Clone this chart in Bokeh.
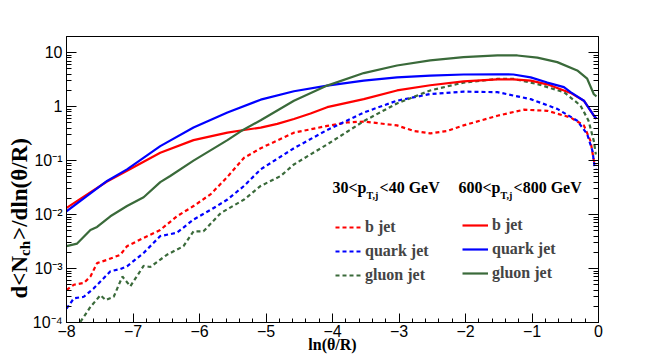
from bokeh.plotting import figure
from bokeh.models import (Range1d, LogAxis, FixedTicker, CustomJSTickFormatter,
                          Label, Legend, LegendItem, Title)
from bokeh.embed import file_html
from bokeh.resources import INLINE

# ---------------- data ----------------
b_hi_x = [-8, -7.39, -7.09, -6.59, -6.09, -5.58, -5.33, -5.08, -4.83, -4.58, -4.33, -4.08,
          -3.53, -3.03, -2.53, -2.03, -1.52, -1.28, -1.02, -0.77, -0.52, -0.42, -0.22, -0.07, -0.03]
b_hi_y = [0.0133, 0.041, 0.065, 0.14, 0.24, 0.33, 0.37, 0.41, 0.48, 0.59, 0.75, 0.98,
          1.38, 2.0, 2.5, 2.95, 3.2, 3.2, 3.05, 2.6, 2.0, 1.8, 1.29, 0.68, 0.6]

q_hi_x = [-8, -7.39, -7.09, -6.59, -6.09, -5.58, -5.08, -4.58, -4.08, -3.53, -3.03, -2.53,
          -2.03, -1.52, -1.28, -1.02, -0.77, -0.52, -0.42, -0.22, -0.07, -0.03]
q_hi_y = [0.0115, 0.042, 0.069, 0.186, 0.41, 0.78, 1.35, 1.93, 2.45, 3.05, 3.5, 3.78,
          3.95, 3.98, 3.95, 3.5, 2.8, 2.3, 1.86, 1.29, 0.68, 0.6]

g_hi_x = [-8, -7.84, -7.64, -7.54, -7.34, -7.09, -6.84, -6.59, -6.44, -6.09, -5.58, -5.38,
          -5.08, -4.58, -4.08, -3.53, -3.03, -2.53, -2.03, -1.52, -1.22, -0.92, -0.62, -0.32,
          -0.17, -0.07, -0.03]
g_hi_y = [0.0026, 0.0029, 0.0052, 0.0059, 0.0093, 0.0144, 0.021, 0.040, 0.052, 0.10, 0.24, 0.35,
          0.56, 1.29, 2.46, 4.2, 5.8, 7.2, 8.3, 8.9, 8.9, 8.1, 6.7, 4.7,
          3.3, 1.7, 1.55]

b_lo_x = [-8, -7.89, -7.74, -7.64, -7.54, -7.39, -7.19, -7.09, -6.84, -6.59, -6.34, -6.09,
          -5.83, -5.58, -5.33, -5.08, -4.58, -4.08, -3.78, -3.53, -3.03, -2.78, -2.53, -2.28,
          -2.03, -1.52, -1.12, -0.77, -0.42, -0.22, -0.12, -0.07, -0.04]
b_lo_y = [4.0e-4, 5.0e-4, 5.4e-4, 7.1e-4, 1.26e-3, 1.45e-3, 1.8e-3, 2.6e-3, 3.7e-3, 5.2e-3, 9.3e-3, 0.0144,
          0.024, 0.05, 0.113, 0.17, 0.33, 0.44, 0.51, 0.53, 0.45, 0.355, 0.32, 0.355,
          0.45, 0.68, 0.88, 0.84, 0.63, 0.45, 0.23, 0.10, 0.083]

q_lo_x = [-8, -7.89, -7.74, -7.59, -7.34, -7.19, -7.09, -6.84, -6.59, -6.34, -6.09, -5.83,
          -5.58, -5.33, -5.08, -4.58, -4.08, -3.53, -3.03, -2.53, -2.03, -1.52, -1.02, -0.62,
          -0.32, -0.17, -0.09, -0.06, -0.04]
q_lo_y = [1.8e-4, 2.8e-4, 3.0e-4, 4.3e-4, 8.9e-4, 9.8e-4, 1.1e-3, 1.95e-3, 4.0e-3, 4.6e-3, 8.1e-3, 0.0123,
          0.019, 0.034, 0.069, 0.17, 0.37, 0.78, 1.29, 1.72, 1.9, 1.86, 1.38, 0.91,
          0.55, 0.31, 0.15, 0.079, 0.07]

g_lo_x = [-7.85, -7.64, -7.49, -7.41, -7.29, -7.16, -7.04, -6.84, -6.74, -6.49, -6.24, -6.09,
          -5.94, -5.68, -5.33, -5.08, -4.78, -4.58, -4.08, -3.53, -3.03, -2.53, -2.03, -1.52,
          -1.28, -0.92, -0.52, -0.27, -0.15, -0.07, -0.04]
g_lo_y = [8e-5, 1.95e-4, 3.2e-4, 2.6e-4, 3.0e-4, 7.1e-4, 4.7e-4, 1.12e-3, 1.07e-3, 1.8e-3, 2.6e-3, 4.9e-3,
          4.9e-3, 0.0107, 0.019, 0.034, 0.052, 0.085, 0.20, 0.54, 1.15, 2.0, 2.8, 3.27,
          3.27, 2.63, 1.86, 1.05, 0.55, 0.23, 0.13]

x_ticks = [-8, -7, -6, -5, -4, -3, -2, -1, 0]
x_tick_labels = ["\u22128", "\u22127", "\u22126", "\u22125", "\u22124", "\u22123", "\u22122", "\u22121", "0"]
y_ticks = [1e-4, 1e-3, 1e-2, 1e-1, 1, 10]
y_tick_labels = ["10\u207b\u2074", "10\u207b\u00b3", "10\u207b\u00b2", "10\u207b\u00b9", "1", "10"]

series_names = ["b jet", "quark jet", "gluon jet"]
header_lo = ("30<p", "T,j", "<40 GeV")
header_hi = ("600<p", "T,j", "<800 GeV")
x_title = "ln(\u03b8/R)"
y_title = ("d<N", "ch", ">/dln(\u03b8/R)")

RED, BLUE, GREEN = "#ff0000", "#0000ff", "#3a6a3a"
SERIF = "Liberation Serif"
SANS = "Liberation Sans"

# Times-Bold advance widths (per 1000 em) for text layout
W = {'0': 500, '1': 500, '2': 500, '3': 500, '4': 500, '5': 500, '6': 500, '7': 500, '8': 500, '9': 500,
     '<': 570, '>': 570, 'p': 556, 'T': 667, ',': 250, 'j': 333, ' ': 250, 'G': 778, 'e': 444,
     'V': 722, 'd': 556, 'N': 722, 'c': 444, 'h': 556, '/': 278, 'l': 278, 'n': 556, '(': 333,
     ')': 333, 'R': 722, '\u03b8': 520}


def tw(s, size):
    return sum(W.get(c, 500) for c in s) / 1000.0 * size


p = figure(width=650, height=356, x_range=Range1d(-8, 0), y_range=Range1d(1e-4, 20),
           y_axis_type="log", output_backend="svg", toolbar_location=None,
           min_border_left=66, min_border_right=52, min_border_top=36, min_border_bottom=34,
           background_fill_color="white", border_fill_color="white")
p.grid.visible = False
p.outline_line_color = "black"
p.outline_line_width = 1

# x axis
p.xaxis.ticker = FixedTicker(ticks=x_ticks, minor_ticks=[round(-8 + 0.2 * i, 1) for i in range(41)])
p.xaxis.major_label_overrides = dict(zip(x_ticks, x_tick_labels))
p.xaxis.axis_label = x_title
p.xaxis.axis_label_text_font = SERIF
p.xaxis.axis_label_text_font_size = "16px"
p.xaxis.axis_label_text_font_style = "bold"
p.xaxis.axis_label_text_color = "black"
p.xaxis.axis_label_standoff = -4
# y axis
ymin = [m * 10.0 ** e for e in range(-4, 2) for m in range(2, 10)]
p.yaxis.ticker = FixedTicker(ticks=y_ticks, minor_ticks=ymin)
p.yaxis.major_label_overrides = dict(zip(y_ticks, y_tick_labels))
p.yaxis.axis_label = None

for ax in (p.xaxis[0], p.yaxis[0]):
    ax.axis_line_color = "black"
    ax.major_tick_line_color = "black"
    ax.minor_tick_line_color = "black"
    ax.major_tick_out = 0
    ax.minor_tick_out = 0
    ax.major_label_text_font = SANS
    ax.major_label_text_font_size = "16px"
    ax.major_label_text_color = "black"
p.xaxis.major_tick_in = 9
p.xaxis.minor_tick_in = 4
p.yaxis.major_tick_in = 10
p.yaxis.minor_tick_in = 5
p.xaxis.major_label_standoff = 2
p.yaxis.major_label_standoff = 4

right = LogAxis(ticker=FixedTicker(ticks=y_ticks, minor_ticks=ymin),
                formatter=CustomJSTickFormatter(code="return ''"),
                major_tick_in=10, major_tick_out=0, minor_tick_in=5, minor_tick_out=0,
                axis_line_color="black", major_label_text_font_size="1px")
p.add_layout(right, "right")

# y title: main text with a gap where the subscript goes, subscript as its own title
YS, YSUB, OFF = 23, 15, 24
t_sub = Title(text=y_title[1], text_font=SERIF, text_font_size=f"{YSUB}px", text_font_style="bold",
              text_color="black", align="left", vertical_align="middle", standoff=-9,
              offset=OFF + tw(y_title[0], YS))
t_main = Title(text=y_title[0] + "\u2002\u2009" + y_title[2], text_font=SERIF, text_font_size=f"{YS}px",
               text_font_style="bold", text_color="black", align="left", vertical_align="middle",
               standoff=-25, offset=OFF)
p.add_layout(t_sub, "left")
p.add_layout(t_main, "left")

# curves
DASH = "4 3"
r_b_lo = p.line(b_lo_x, b_lo_y, line_color=RED, line_width=2.2, line_dash=DASH)
r_q_lo = p.line(q_lo_x, q_lo_y, line_color=BLUE, line_width=2.2, line_dash=DASH)
r_g_lo = p.line(g_lo_x, g_lo_y, line_color=GREEN, line_width=2.2, line_dash=DASH)
r_b_hi = p.line(b_hi_x, b_hi_y, line_color=RED, line_width=2.2)
r_q_hi = p.line(q_hi_x, q_hi_y, line_color=BLUE, line_width=2.2)
r_g_hi = p.line(g_hi_x, g_hi_y, line_color=GREEN, line_width=2.2)


def make_legend(renderers, loc):
    return Legend(items=[LegendItem(label=n, renderers=[r]) for n, r in zip(series_names, renderers)],
                  location=loc, margin=0, padding=0, spacing=4, label_height=20, glyph_height=20,
                  glyph_width=26, label_standoff=4, label_text_font=SERIF,
                  label_text_font_size="16px", label_text_font_style="bold",
                  border_line_color=None, background_fill_alpha=0)


p.add_layout(make_legend([r_b_lo, r_q_lo, r_g_lo], (269, 37)))
p.add_layout(make_legend([r_b_hi, r_q_hi, r_g_hi], (396, 39)))


def lab(x, y, t, size, **kw):
    p.add_layout(Label(x=x, y=y, x_units="screen", y_units="screen", text=t,
                       text_font=SERIF, text_font_size=f"{size}px", text_font_style="bold",
                       text_color="black", **kw))


def header(x0, y0, parts, size=16, sub=10):
    a, s, b = parts
    lab(x0, y0, a, size)
    x1 = x0 + tw(a, size)
    lab(x1, y0 - 5, s, sub)
    x2 = x1 + tw(s, sub) + 0.5
    lab(x2, y0, b, size)


header(266, 127, header_lo)
header(392, 127, header_hi)

open("out.html", "w").write(file_html(p, INLINE))
